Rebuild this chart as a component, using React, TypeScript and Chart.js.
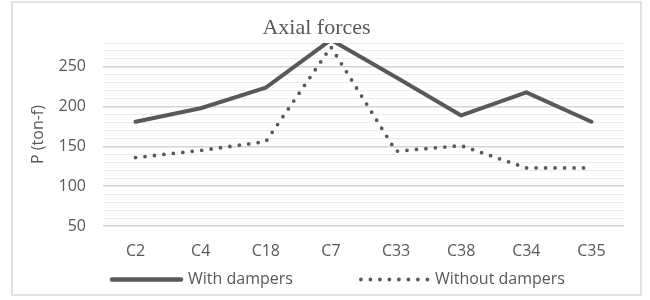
import React, { useEffect, useRef } from "react";
import { Chart, registerables } from "chart.js";

Chart.register(...registerables);

const categories = ["C2", "C4", "C18", "C7", "C33", "C38", "C34", "C35"];
const withDampers = [181, 198, 224, 284, 237, 189, 218, 181];
const withoutDampers = [136, 145, 156, 275, 144, 151, 123, 123];
const seriesNames = ["With dampers", "Without dampers"];
const yMin = 50;
const yMax = 280;
const yStep = 10;
const yLabelStep = 50;
const titleText = "Axial forces";
const yTitleText = "P (ton-f)";

const GRAY = "#595959";
const SANS = "'Open Sans', 'Noto Sans', sans-serif";

const decor = {
  id: "decor",
  beforeDraw(chart: any) {
    const ctx = chart.ctx;
    ctx.save();
    ctx.strokeStyle = "#d9d9d9";
    ctx.lineWidth = 1.5;
    ctx.strokeRect(12, 2, 629, 293);
    ctx.restore();
  },
  afterDraw(chart: any) {
    const ctx = chart.ctx;
    ctx.save();
    // title
    ctx.fillStyle = GRAY;
    ctx.font = "22px 'Liberation Serif', 'DejaVu Serif', serif";
    ctx.textAlign = "center";
    ctx.textBaseline = "alphabetic";
    ctx.fillText(titleText, 316.5, 33.5);
    // legend
    ctx.font = "16px " + SANS;
    ctx.textAlign = "left";
    ctx.textBaseline = "middle";
    const ly = 279.5;
    let x = 110;
    const sampleW = [71, 67];
    chart.data.datasets.forEach((ds: any, i: number) => {
      ctx.save();
      ctx.strokeStyle = ds.borderColor;
      ctx.lineWidth = i === 0 ? 4.5 : ds.borderWidth;
      ctx.lineCap = "round";
      ctx.setLineDash(ds.borderDash || []);
      ctx.beginPath();
      ctx.moveTo(x + (i === 0 ? 2 : 0), ly);
      ctx.lineTo(x + sampleW[i], ly);
      ctx.stroke();
      ctx.restore();
      const tx = x + sampleW[i] + 7;
      ctx.fillStyle = GRAY;
      ctx.fillText(ds.label, tx, ly);
      x = tx + ctx.measureText(ds.label).width + 68;
    });
    ctx.restore();
  },
};

export default function App() {
  const canvasRef = useRef<HTMLCanvasElement | null>(null);

  useEffect(() => {
    if (!canvasRef.current) return;
    const chart = new Chart(canvasRef.current, {
      type: "line",
      data: {
        labels: categories,
        datasets: [
          {
            label: seriesNames[0],
            data: withDampers,
            borderColor: GRAY,
            backgroundColor: GRAY,
            borderWidth: 4,
            pointRadius: 0,
            tension: 0,
            clip: 0,
            borderJoinStyle: "round",
            borderCapStyle: "round",
          },
          {
            label: seriesNames[1],
            data: withoutDampers,
            borderColor: GRAY,
            backgroundColor: GRAY,
            borderWidth: 3.8,
            borderDash: [0, 9.5],
            borderCapStyle: "round",
            pointRadius: 0,
            tension: 0,
            clip: 0,
          },
        ],
      },
      options: {
        responsive: true,
        maintainAspectRatio: false,
        animation: false,
        layout: { padding: { top: 43, right: 26, bottom: 34, left: 0 } },
        plugins: {
          legend: { display: false },
          title: { display: false },
          tooltip: { enabled: false },
        },
        scales: {
          x: {
            grid: { display: false, drawTicks: false },
            border: { display: false },
            offset: true,
            ticks: {
              color: GRAY,
              font: { family: SANS, size: 16 },
              padding: 16,
            },
            afterFit(scale: any) {
              scale.height = 40;
            },
          },
          y: {
            min: yMin,
            max: yMax,
            border: { display: false },
            grid: {
              drawTicks: false,
              color: (c: any) =>
                c.tick && c.tick.value % yLabelStep === 0 ? "#d4d4d4" : "#ebebeb",
              lineWidth: (c: any) =>
                c.tick && c.tick.value % yLabelStep === 0 ? 1.6 : 1,
            },
            ticks: {
              stepSize: yStep,
              autoSkip: false,
              color: GRAY,
              font: { family: SANS, size: 16 },
              padding: 17,
              callback: (v: any) => (Number(v) % yLabelStep === 0 ? String(v) : ""),
            },
            title: {
              display: true,
              text: yTitleText,
              color: GRAY,
              font: { family: SANS, size: 16 },
              padding: { top: 29, bottom: 0 },
            },
            afterFit(scale: any) {
              scale.width = 103;
            },
          },
        },
      } as any,
      plugins: [decor],
    });
    return () => chart.destroy();
  }, []);

  return (
    <div style={{ position: "absolute", left: 0, top: 0, width: 650, height: 300, background: "#fff" }}>
      <canvas ref={canvasRef} />
    </div>
  );
}
